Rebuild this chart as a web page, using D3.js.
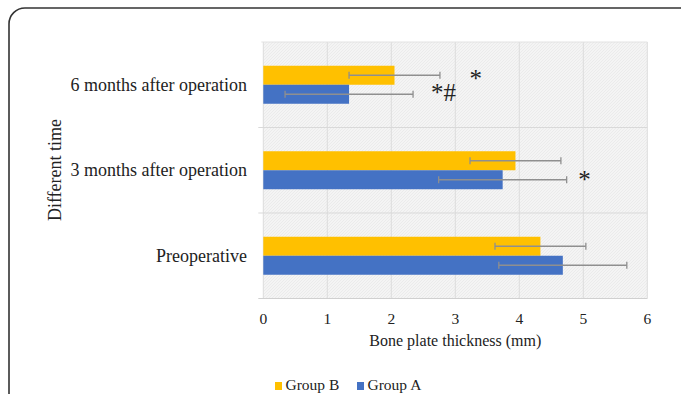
<!DOCTYPE html>
<html><head><meta charset="utf-8">
<script src="https://cdn.jsdelivr.net/npm/d3@7"></script>
<style>body{margin:0;background:#fff;}svg{display:block;}</style>
</head><body>
<script>
const categories = ["6 months after operation", "3 months after operation", "Preoperative"];
const seriesNames = ["Group B", "Group A"];
const groupB = [2.05, 3.94, 4.33];
const groupA = [1.34, 3.74, 4.68];
const errB = [0.71, 0.71, 0.71];
const errA = [1.0, 1.0, 1.0];
const xTicks = [0, 1, 2, 3, 4, 5, 6];
const marks = [
  {cat: "6 months after operation", series: "Group B", text: "*", at: 3.32},
  {cat: "6 months after operation", series: "Group A", text: "*#", at: 2.62},
  {cat: "3 months after operation", series: "Group A", text: "*", at: 5.02}
];
const colors = {"Group B": "#FFC000", "Group A": "#4472C4"};

(function () {
const W = 681, H = 394;
const svg = d3.select("body").append("svg").attr("width", W).attr("height", H);

svg.append("rect").attr("x", 9).attr("y", 8).attr("width", 690).attr("height", 420)
  .attr("rx", 16).attr("fill", "none").attr("stroke", "#333").attr("stroke-width", 1.6);

const pL = 263.3, pR = 647.3, pT = 42, pB = 298.5;
const x = d3.scaleLinear().domain([0, 6]).range([pL, pR]);
const y = d3.scaleBand().domain(categories).range([pT, pB]);
const sub = d3.scaleBand().domain(seriesNames).range([0, y.bandwidth()]).paddingOuter(1.25).paddingInner(0);

const defs = svg.append("defs");
const pat = defs.append("pattern").attr("id", "hatch").attr("patternUnits", "userSpaceOnUse")
  .attr("width", 3).attr("height", 3);
pat.append("rect").attr("width", 3).attr("height", 3).attr("fill", "#f4f4f4");
pat.append("path").attr("d", "M0,3 L3,0").attr("stroke", "#e9e9e9").attr("stroke-width", 0.8);
svg.append("rect").attr("x", pL).attr("y", pT).attr("width", pR - pL).attr("height", pB - pT)
  .attr("fill", "url(#hatch)");

svg.append("g").selectAll("line").data(xTicks).join("line")
  .attr("x1", d => x(d)).attr("x2", d => x(d)).attr("y1", pT).attr("y2", pB)
  .attr("stroke", "#dcdcdc").attr("stroke-width", 1);
svg.append("line").attr("x1", pL - 2).attr("x2", pR).attr("y1", pT).attr("y2", pT)
  .attr("stroke", "#e2e2e2");
const bounds = categories.slice(1).map(c => y(c));
svg.append("g").selectAll("line").data(bounds).join("line")
  .attr("x1", pL - 5).attr("x2", pR).attr("y1", d => d).attr("y2", d => d)
  .attr("stroke", "#d9d9d9").attr("stroke-width", 1);
svg.append("line").attr("x1", pL - 5).attr("x2", pR).attr("y1", pB).attr("y2", pB)
  .attr("stroke", "#d0d0d0").attr("stroke-width", 1.2);

const data = [];
categories.forEach((c, i) => {
  data.push({cat: c, series: "Group B", v: groupB[i], e: errB[i]});
  data.push({cat: c, series: "Group A", v: groupA[i], e: errA[i]});
});

svg.append("g").selectAll("rect").data(data).join("rect")
  .attr("x", x(0)).attr("y", d => y(d.cat) + sub(d.series))
  .attr("width", d => x(d.v) - x(0)).attr("height", sub.bandwidth())
  .attr("fill", d => colors[d.series]);

const eb = svg.append("g").attr("stroke", "#8f8f8f").attr("stroke-width", 1.3);
data.forEach(d => {
  const cy = y(d.cat) + sub(d.series) + sub.bandwidth() / 2;
  const x1 = x(d.v - d.e), x2 = x(d.v + d.e);
  eb.append("line").attr("x1", x1).attr("x2", x2).attr("y1", cy).attr("y2", cy);
  eb.append("line").attr("x1", x1).attr("x2", x1).attr("y1", cy - 3.5).attr("y2", cy + 3.5);
  eb.append("line").attr("x1", x2).attr("x2", x2).attr("y1", cy - 3.5).attr("y2", cy + 3.5);
});

const serif = "'Liberation Serif', 'Times New Roman', serif";
const mk = svg.append("g").attr("font-family", serif).attr("font-size", 25).attr("fill", "#222");
marks.forEach(d => {
  const cy = y(d.cat) + sub(d.series) + sub.bandwidth() / 2;
  if (d.text.length === 1) {
    mk.append("text").attr("x", x(d.at)).attr("y", cy + (d.series === "Group B" ? 12 : 8.5))
      .attr("text-anchor", "middle").text(d.text);
  } else {
    mk.append("text").attr("x", x(d.at)).attr("y", cy + 6.7).text(d.text);
  }
});

svg.append("g").selectAll("text").data(categories).join("text")
  .attr("x", 247).attr("y", d => y(d) + y.bandwidth() / 2 + 6)
  .attr("text-anchor", "end").attr("font-family", serif).attr("font-size", 18)
  .attr("fill", "#222").text(d => d);

svg.append("g").selectAll("text").data(xTicks).join("text")
  .attr("x", d => x(d)).attr("y", 324).attr("text-anchor", "middle")
  .attr("font-family", serif).attr("font-size", 15.5).attr("fill", "#222").text(d => d);

svg.append("text").attr("x", (pL + pR) / 2).attr("y", 345.5).attr("text-anchor", "middle")
  .attr("font-family", serif).attr("font-size", 16).attr("fill", "#222").text("Bone plate thickness (mm)");

svg.append("text").attr("transform", "translate(61,170) rotate(-90)").attr("text-anchor", "middle")
  .attr("font-family", serif).attr("font-size", 18).attr("fill", "#222").text("Different time");

const leg = svg.append("g");
const legX = [275, 357];
seriesNames.forEach((s, i) => {
  leg.append("rect").attr("x", legX[i]).attr("y", 382).attr("width", 7).attr("height", 8).attr("fill", colors[s]);
  leg.append("text").attr("x", legX[i] + 10.5).attr("y", 390).attr("font-family", serif)
    .attr("font-size", 15.5).attr("fill", "#222").text(s);
});
})();
</script>
</body></html>
